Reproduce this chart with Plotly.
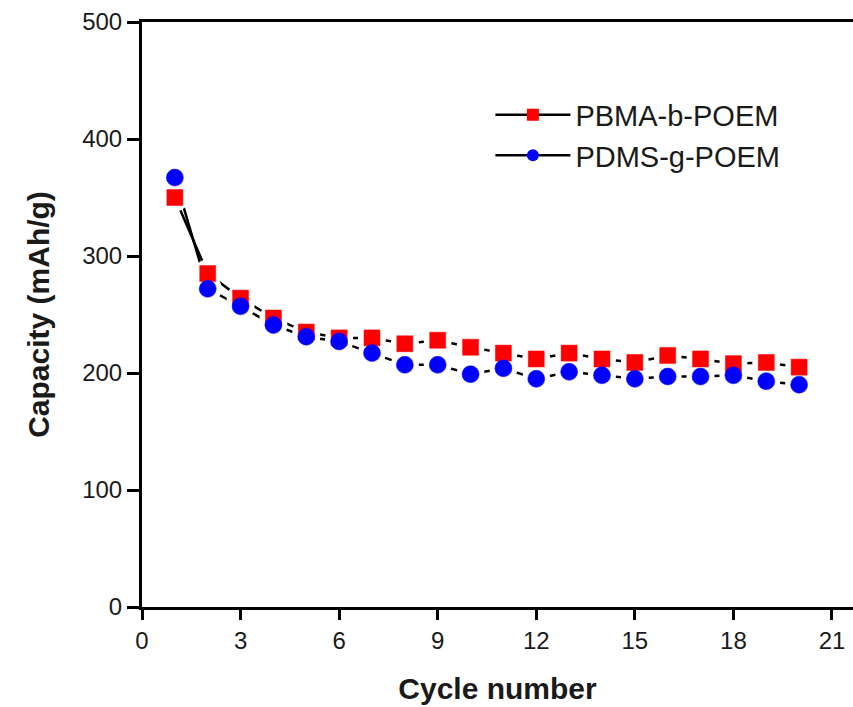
import plotly.graph_objects as go

cycles = list(range(1, 21))
pbma = [350, 285, 264, 247, 235, 230, 230, 225, 228, 222, 217, 212, 217, 212, 209, 215, 212, 208, 209, 205]
pdms = [367, 272, 257, 241, 231, 227, 217, 207, 207, 199, 204, 195, 201, 198, 195, 197, 197, 198, 193, 190]
series_names = ["PBMA-b-POEM", "PDMS-g-POEM"]
x_ticks = [0, 3, 6, 9, 12, 15, 18, 21]
y_ticks = [0, 100, 200, 300, 400, 500]

FONT = "Liberation Sans, Arial, sans-serif"
colors = ["#ff0000", "#0000ff"]
symbols = ["square", "circle"]
data = [pbma, pdms]

fig = go.Figure()
# connecting lines
for ys in data:
    fig.add_trace(go.Scatter(x=cycles, y=ys, mode="lines",
                             line=dict(color="black", width=2.5),
                             showlegend=False, hoverinfo="skip"))
# white gaps around symbols
for ys in data:
    fig.add_trace(go.Scatter(x=cycles, y=ys, mode="markers",
                             marker=dict(symbol="circle", size=28, color="white",
                                         line=dict(width=0)),
                             showlegend=False, hoverinfo="skip"))
# symbols
for ys, c, s in zip(data, colors, symbols):
    fig.add_trace(go.Scatter(x=cycles, y=ys, mode="markers",
                             marker=dict(symbol=s, size=17 if s == "circle" else 16, color=c,
                                         line=dict(width=0.5, color=c)),
                             showlegend=False))
# legend entries
for name, c, s in zip(series_names, colors, symbols):
    fig.add_trace(go.Scatter(x=[None], y=[None], mode="lines+markers", name=name,
                             line=dict(color="black", width=2.5),
                             marker=dict(symbol=s, size=12, color=c)))

fig.update_layout(
    width=853, height=707,
    margin=dict(l=142, r=0, t=22, b=100, autoexpand=False),
    paper_bgcolor="white", plot_bgcolor="white",
    font=dict(family=FONT, color="#1a1a1a"),
    showlegend=True,
    legend=dict(x=0.49, y=0.885, xanchor="left", yanchor="top",
                bgcolor="rgba(0,0,0,0)", font=dict(size=29, family=FONT),
                itemwidth=75, tracegroupgap=0),
    xaxis=dict(range=[0, 21.64], tickvals=x_ticks, ticktext=[str(v) for v in x_ticks],
               automargin=False,
               showgrid=False, zeroline=False, showline=True, linecolor="black",
               linewidth=3, mirror=True, ticks="outside", ticklen=10, tickwidth=3,
               tickcolor="black", tickfont=dict(size=24, family=FONT),
               title=dict(text="<b>Cycle number</b>", font=dict(size=30, family=FONT),
                          standoff=26)),
    yaxis=dict(range=[0, 500], tickvals=y_ticks, ticktext=[str(v) for v in y_ticks],
               automargin=False,
               showgrid=False, zeroline=False, showline=True, linecolor="black",
               linewidth=3, ticks="outside", ticklen=12, tickwidth=3,
               tickcolor="black", tickfont=dict(size=24, family=FONT),
               title=dict(text="<b>Capacity (mAh/g)</b>", font=dict(size=30, family=FONT),
                          standoff=24)),
)

fig.write_html("out.html", config={"displayModeBar": False},
               post_script="document.body.style.margin='0';document.body.style.overflow='hidden';")
